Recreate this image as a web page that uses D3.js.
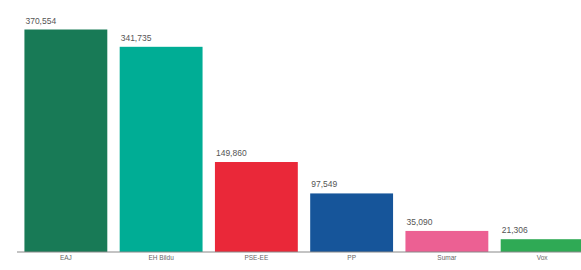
<!DOCTYPE html>
<html>
<head>
<meta charset="utf-8">
<script src="https://cdn.jsdelivr.net/npm/d3@7"></script>
<style>
  body { margin: 0; background: #fff; overflow: hidden; }
  text { font-family: "Liberation Sans", Arial, sans-serif; }
</style>
</head>
<body>
<script>
const width = 581;
const height = 270;

const parties = ["EAJ", "EH Bildu", "PSE-EE", "PP", "Sumar", "Vox"];
const votes = [370554, 341735, 149860, 97549, 35090, 21306];
const colors = ["#187a56", "#00ad95", "#ea2839", "#16559a", "#ec6093", "#2faa55"];

const data = parties.map((p, i) => ({ party: p, votes: votes[i], color: colors[i] }));

const svg = d3.select("body")
  .append("svg")
  .attr("width", width)
  .attr("height", height);

const baseline = 252;

const x = d3.scaleBand()
  .domain(parties)
  .range([13, 595])
  .paddingInner(0.13)
  .paddingOuter(0.12);

const y = d3.scaleLinear()
  .domain([0, d3.max(votes)])
  .range([baseline, 29.5]);

svg.append("g")
  .selectAll("rect")
  .data(data)
  .enter()
  .append("rect")
  .attr("x", d => x(d.party))
  .attr("y", d => y(d.votes))
  .attr("width", x.bandwidth())
  .attr("height", d => baseline - y(d.votes))
  .attr("fill", d => d.color);

// value labels
svg.append("g")
  .selectAll("text")
  .data(data)
  .enter()
  .append("text")
  .attr("x", d => x(d.party) + 1)
  .attr("y", d => y(d.votes) - 6)
  .attr("font-size", 8.5)
  .attr("fill", "#555")
  .text(d => d3.format(",")(d.votes));

// baseline axis
const axis = svg.append("g")
  .attr("transform", `translate(0,${baseline})`)
  .call(d3.axisBottom(x).tickSize(0).tickPadding(3));

axis.select(".domain")
  .attr("d", `M17,0H${width}`)
  .attr("stroke", "#888")
  .attr("stroke-width", 1);

axis.selectAll("text")
  .attr("font-size", 6.5)
  .attr("fill", "#666");
</script>
</body>
</html>
